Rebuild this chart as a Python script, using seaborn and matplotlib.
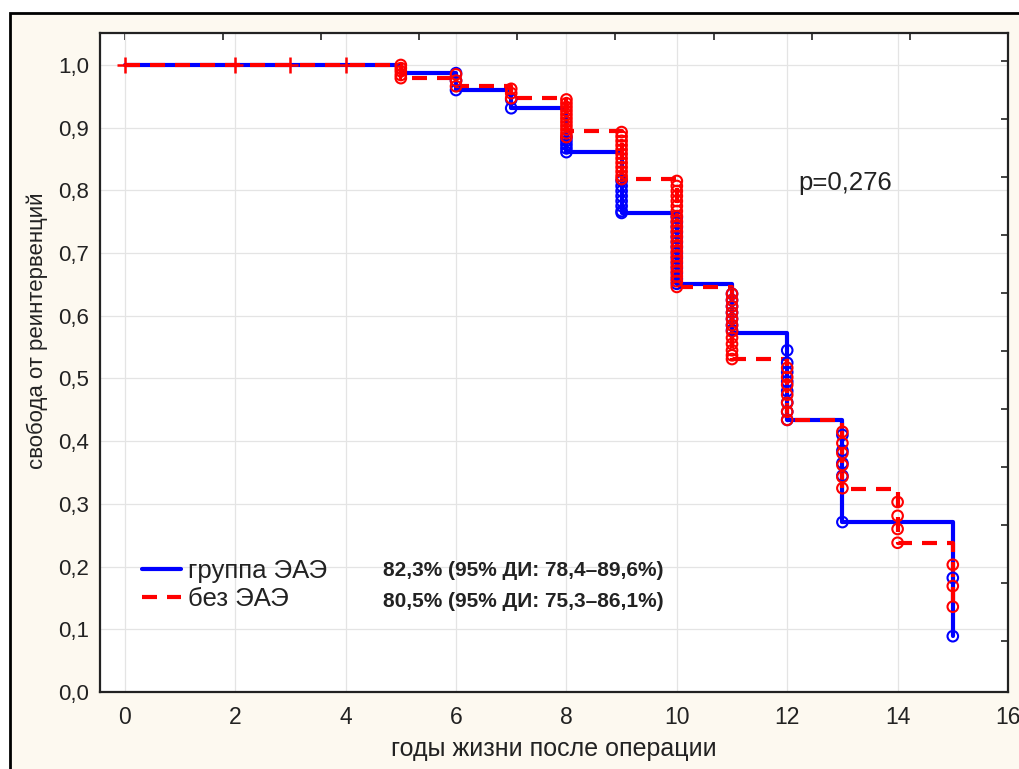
import numpy as np
import pandas as pd
import matplotlib
matplotlib.use("Agg")
import matplotlib.pyplot as plt
import seaborn as sns
from matplotlib import font_manager
from matplotlib.patches import Rectangle

# --- data ---
times = [0, 5, 6, 7, 8, 9, 10, 11, 12, 13, 14, 15]
surv_eae = [1.0, 0.987, 0.960, 0.931, 0.861, 0.764, 0.651, 0.573, 0.434, 0.271, 0.271, 0.089]
surv_no_eae = [1.0, 0.979, 0.966, 0.947, 0.895, 0.818, 0.646, 0.531, 0.433, 0.324, 0.238, 0.136]

# censored observations (circles), group EAE
cens_eae_t = ([6] * 3 + [7] * 2 + [8] * 5 + [9] * 8 + [10] * 14 + [11] * 7 + [12] * 8
              + [13] * 5 + [15] * 2)
cens_eae_y = [0.987, 0.975, 0.960,
              0.945, 0.931,
              0.885, 0.879, 0.873, 0.867, 0.861,
              0.815, 0.807, 0.799, 0.791, 0.783, 0.775, 0.767, 0.764,
              0.757, 0.749, 0.741, 0.733, 0.725, 0.717, 0.709, 0.700, 0.692, 0.684,
              0.676, 0.668, 0.659, 0.651,
              0.635, 0.625, 0.615, 0.605, 0.595, 0.585, 0.577,
              0.545, 0.525, 0.510, 0.495, 0.480, 0.462, 0.447, 0.434,
              0.410, 0.385, 0.365, 0.345, 0.271,
              0.182, 0.089]

# censored observations (circles), group without EAE
cens_no_t = ([5] * 5 + [6] * 3 + [7] * 3 + [8] * 11 + [9] * 12 + [10] * 22 + [11] * 12
             + [12] * 7 + [13] * 6 + [14] * 4 + [15] * 3)
cens_no_y = [1.0, 0.995, 0.990, 0.984, 0.979,
             0.985, 0.975, 0.966,
             0.962, 0.955, 0.947,
             0.945, 0.939, 0.933, 0.927, 0.921, 0.915, 0.909, 0.903, 0.897, 0.891, 0.885,
             0.893, 0.886, 0.879, 0.872, 0.865, 0.858, 0.851, 0.844, 0.837, 0.830, 0.823, 0.818,
             0.815, 0.807, 0.799, 0.791, 0.783, 0.775, 0.767, 0.759, 0.751, 0.743, 0.735,
             0.727, 0.719, 0.711, 0.703, 0.695, 0.687, 0.679, 0.671, 0.663, 0.655, 0.646,
             0.635, 0.625, 0.615, 0.605, 0.595, 0.585, 0.575, 0.565, 0.555, 0.545, 0.537, 0.531,
             0.517, 0.502, 0.490, 0.474, 0.461, 0.447, 0.434,
             0.415, 0.397, 0.381, 0.362, 0.343, 0.325,
             0.303, 0.281, 0.260, 0.238,
             0.203, 0.169, 0.136]

# early censored (crosses) in the group without EAE
plus_t = [0, 2, 3, 4]
plus_y = [1.0, 1.0, 1.0, 1.0]

x_ticks = [0, 2, 4, 6, 8, 10, 12, 14, 16]
y_ticks = [0.0, 0.1, 0.2, 0.3, 0.4, 0.5, 0.6, 0.7, 0.8, 0.9, 1.0]

label_eae = "группа ЭАЭ"
label_no = "без ЭАЭ"
ci_eae = "82,3% (95% ДИ: 78,4–89,6%)"
ci_no = "80,5% (95% ДИ: 75,3–86,1%)"

BLUE = "#0000ff"
RED = "#ff0000"
CREAM = "#fdf9f0"
INK = "#222222"

sns.set_theme(style="white")
names = {f.name for f in font_manager.fontManager.ttflist}
main_font = "Liberation Sans" if "Liberation Sans" in names else "DejaVu Sans"
narrow_font = "Liberation Sans Narrow" if "Liberation Sans Narrow" in names else main_font
plt.rcParams["font.family"] = [main_font, "DejaVu Sans"]

fig = plt.figure(figsize=(10.19, 7.69), dpi=100)
fig.patch.set_facecolor("white")
fig.patches.append(Rectangle((10 / 1019, -0.05), 1.1, 1 - 13 / 769 + 0.05,
                             transform=fig.transFigure, facecolor=CREAM,
                             edgecolor="black", linewidth=2, zorder=-10))
ax = fig.add_axes([100 / 1019, 77 / 769, 908 / 1019, 659 / 769])
ax.set_facecolor("white")

df_eae = pd.DataFrame({"t": times, "s": surv_eae})
df_no = pd.DataFrame({"t": times, "s": surv_no_eae})

sns.lineplot(data=df_eae, x="t", y="s", drawstyle="steps-post", color=BLUE,
             linewidth=3.0, label=label_eae, ax=ax, zorder=3)
sns.lineplot(data=df_no, x="t", y="s", drawstyle="steps-post", color=RED,
             linewidth=3.0, dashes=(3.6, 2.4), label=label_no, ax=ax, zorder=4)

sns.scatterplot(x=cens_eae_t, y=cens_eae_y, marker="o", s=58, facecolor="none",
                edgecolor=BLUE, linewidth=1.5, ax=ax, zorder=5)
sns.scatterplot(x=cens_no_t, y=cens_no_y, marker="o", s=58, facecolor="none",
                edgecolor=RED, linewidth=1.5, ax=ax, zorder=6)
sns.scatterplot(x=plus_t, y=plus_y, marker="+", s=130, color=RED,
                linewidth=1.8, ax=ax, zorder=6)

ax.set_xlim(-0.45, 16)
ax.set_ylim(0, 1.051)
ax.set_xticks(x_ticks)
ax.set_yticks(y_ticks)
ax.set_xticklabels([str(v) for v in x_ticks], fontsize=16.5, family=[narrow_font, "DejaVu Sans"])
ax.set_yticklabels([f"{v:.1f}".replace(".", ",") for v in y_ticks], fontsize=16)
ax.tick_params(axis="x", direction="in", length=5, width=1.2, colors=INK, pad=10)
ax.tick_params(axis="y", direction="out", length=4, width=1.2, colors=INK, pad=4)
ax.grid(True, color="#e4e4e4", linewidth=0.9)
for sp in ax.spines.values():
    sp.set_color(INK)
    sp.set_linewidth(1.6)

# secondary tick marks on top and right (no labels)
top = ax.secondary_xaxis("top")
top.set_xticks(np.linspace(0, 16, 10))
top.tick_params(direction="in", length=5, width=1.2, labeltop=False, colors=INK)
right = ax.secondary_yaxis("right")
right.set_yticks(np.linspace(0.0815, 1.0064, 11))
right.tick_params(direction="in", length=5, width=1.2, labelright=False, colors=INK)

ax.set_xlabel("годы жизни после операции", fontsize=18,
              family=[narrow_font, "DejaVu Sans"], color=INK, labelpad=6)
ax.set_ylabel("свобода от реинтервенций", fontsize=16, color=INK)
ax.yaxis.set_label_coords(-0.057, 0.548)

leg = ax.legend(loc="center left", bbox_to_anchor=(0.021, 0.162), frameon=False,
                fontsize=18.5, handlelength=1.5, handletextpad=0.3, labelspacing=0.15)
for t in leg.get_texts():
    t.set_color(INK)

ax.text(4.67, 0.194, ci_eae, fontsize=15, fontweight="bold", color=INK, va="center")
ax.text(4.67, 0.145, ci_no, fontsize=15, fontweight="bold", color=INK, va="center")
ax.text(13.05, 0.812, "p=0,276", fontsize=18.5, color=INK, ha="center", va="center")

fig.savefig("out.png", dpi=100, facecolor=fig.get_facecolor())
